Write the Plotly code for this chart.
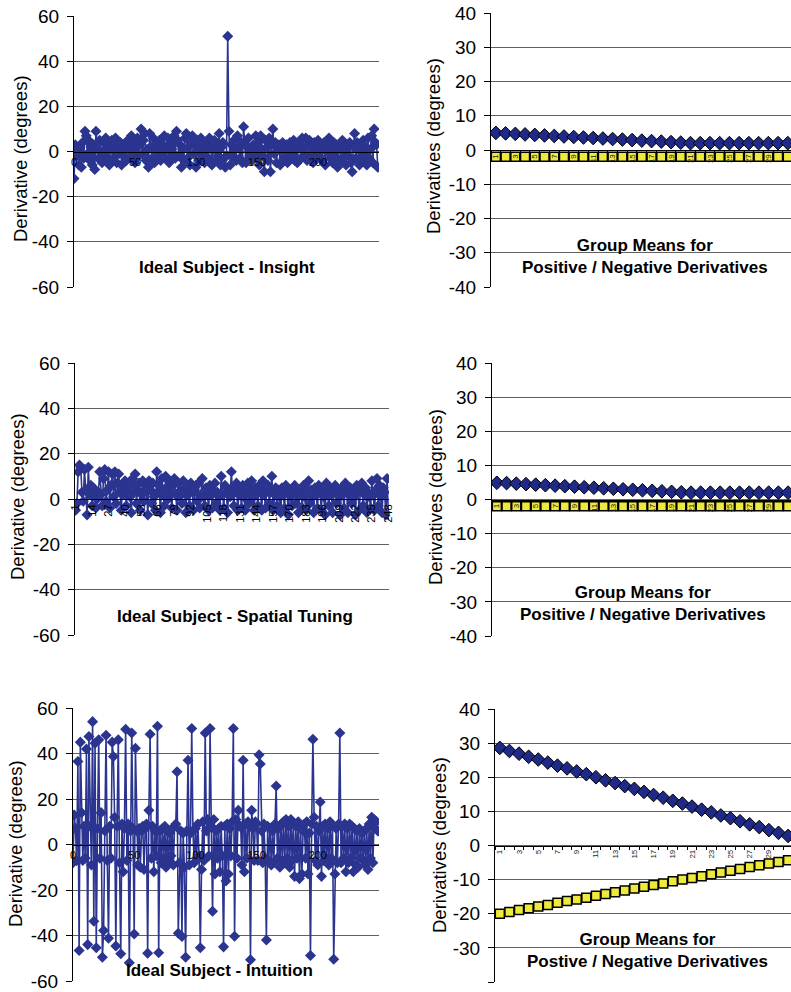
import plotly.graph_objects as go

# ---------------- data ----------------
insight = [
    -12, 3, -2, 1, -6, 2, -7, 4, -3, 9, 7, -1, 5, -4, 2, -6, 3, -8, 9, 1, -3, 5, 0, -5, 4,
    -2, 6, -4, 1, -6, 3, 5, -3, 0, 6, -5, 2, -1, 4, -6, 3, -2, 1, -4, 5, 2, -3, 7, -1, 4,
    -5, 2, 6, -2, 3, 10, -1, 5, 8, -4, 1, -7, 8, 2, -3, 6, -5, 1, 4, -2, 5, -4, 3, -1, 7,
    -3, 2, 6, -5, 4, 1, -2, 7, -3, 9, 5, -2, 3, -7, 1, -4, 6, 8, -3, 2, -6, 4, 7, -1, 3,
    -7, 5, 1, -4, 6, -2, 3, -5, 0, 4, -3, 6, 2, -6, 1, 5, -4, 3, -2, 8, -6, 2, 4, -3, -7,
    -2, 51, 9, -6, 3, -2, 5, 1, -4, 7, 2, -3, 4, -5, 11, 3, -5, 2, 6, -2, 1, -4, 3, 0, 7,
    -3, 4, -6, 7, 1, -2, -9, 5, 2, -4, 6, -9, 3, 10, -1, 4, -5, 2, 3, -6, 1, 4, -3, 0, 3,
    -5, 2, 4, -2, 1, 5, -4, 3, -5, 2, 4, -3, 6, 1, -2, 6, -4, 3, 5, -1, 2, -5, 4, 1, -3,
    5, -2, 3, -4, 1, 4, -6, 2, 0, 6, -3, 2, -5, 4, -2, 3, -7, 1, 2, -4, 5, -3, 1, -6, 3,
    -2, 4, -5, -9, 2, 8, -3, 4, 1, -6, 3, -2, 5, -4, 2, -6, 6, -3, 1, 7, -5, 10, 4, 3, -7,
]
insight_x = list(range(len(insight)))

spatial = [
    -5, -2, 12, 15, 14, 3, -1, 13, 4, -7, 14, 2, 6, -3, 5, 1, -4, 0, 3, 12, 2, -3, 9, 13, -1,
    4, 12, -4, 6, 11, 1, 12, -2, 7, 11, 3, -5, 5, 2, 8, -3, 4, 6, 1, -6, 9, 3, 11, -2, 4,
    7, -5, 2, 8, -1, 6, 3, -7, 8, 4, -2, 7, 1, -5, 12, 3, 6, -6, 9, 2, -3, 10, 5, 0, 8,
    3, -4, 6, 9, 2, -5, 7, 1, 4, -2, 8, 3, -6, 5, 2, -3, 7, 4, -5, 3, 6, -1, 7, -4, 2,
    9, 1, -3, 5, 3, -5, 6, 2, -4, 4, 7, -2, 3, 1, -5, 10, 2, -4, 6, 3, -6, 4, 1, 12, 2,
    -3, 5, 7, -5, 2, 4, -4, 6, 1, -5, 3, 7, -2, 4, 8, 1, -5, 5, 2, -3, 6, 3, -5, 8, 2,
    -4, 4, 6, -2, 3, 10, -5, 2, 5, -3, 4, 1, -6, 5, 2, -4, 6, 3, -7, 4, 1, -3, 5, 6, -2,
    3, -6, 2, 4, -4, 6, 1, -5, 3, 8, -2, 4, 1, -6, 5, 2, -4, 6, 3, -5, 4, 1, -7, 7, 2,
    -3, 5, 2, -6, 4, 6, -2, 3, 1, -7, 5, 2, -4, 7, 3, -6, 2, 5, -2, 4, 1, -7, 6, 3, -5,
    4, 7, -3, 2, 5, -6, 3, 1, -4, 8, 2, -5, 4, 9, -3, 6, 1, -6, 5, 3, -7, 9, -7,
]
spatial_cat = list(range(1, len(spatial) + 1))
spatial_ticks = [1, 14, 27, 40, 53, 66, 79, 92, 105, 118, 131, 144, 157, 170, 183,
                 196, 209, 222, 235, 248]

intuition = [
    -8, 13, 7, -7, 36.5, -46.6, 45, 14, -7, 8, -6, 42, -44, 47.5, 8, -9, 54, -33.7, 44.5, -45.4, 7, 46, -6, 14, -49.6,
    -37.8, 6, 48, -7, -41.2, 8, -6, 45, 38.7, 12, -44.6, 8, 46, -8, -48, 9, -12, 7, 50.7, -7, 9, -52, 6, 49, 7,
    -39.3, 42.3, 6, -9, 7, -10, 6, 8, -11, 7, 9, -47.8, 15, 48.5, -6, 8, -12, 6, -5, 52, -47.6, 6, -8, 7, -6,
    8, -10, 6, -7, 5, -5, 7, -9, 8, 9, 32, -39, -8, 6, -40.4, 5, -10, -49.6, 6, 37, -9, 5, 51, 6, -8,
    7, -6, 9, -5, -45.4, -11, 10, -7, 49, 6, 11, -5, 51, 8, -29.3, 11, -13, 6, -6, 7, -12, 8, -5, -45, 8,
    -16, 9, -13, 7, -5, 10, 51, -40.3, 11, -6, 15, 8, 8, -9, 37, -12, 9, -6, 10, 8, -50.7, 15, 7, -7, 10,
    9, -7, 39.4, 35.4, 6, -8, 9, -6, -42, 8, -7, 7, -9, 6, -8, 9, 25.7, -6, 7, -10, 9, -7, 10, -8, 11,
    -6, 8, -10, 11, -7, 9, -14, 8, -6, 10, -15, 7, -13, 6, 9, -6, 10, -13, 5, -48.8, 9, 46.3, 12, -7, 8,
    -9, 6, 18.7, -14, 8, -7, 9, -6, 7, -9, 10, -6, 8, -50.4, -13, 7, -8, 9, 49, -8, 8, -6, 9, -12, 7,
    -8, 9, -6, 8, -12, 7, -9, 6, -10, 7, -6, 5, -7, 6, -9, 7, -11, 9, -6, 12, -8, 11, 7, 10, 6,
]
intuition_x = list(range(len(intuition)))

group_cat = list(range(1, 33))
pos_means_a = [5.0, 4.85, 4.7, 4.55, 4.4, 4.25, 4.1, 3.95, 3.8, 3.65, 3.5, 3.35, 3.2, 3.05,
               2.9, 2.75, 2.6, 2.45, 2.3, 2.15, 2.0, 2.0, 2.0, 2.0, 2.0, 2.0, 2.0, 2.0,
               2.0, 2.0, 2.0, 2.0]
neg_means_a = [-2.0] * 32
pos_means_b = [4.9, 4.8, 4.65, 4.5, 4.35, 4.2, 4.05, 3.9, 3.75, 3.6, 3.45, 3.3, 3.15, 3.0,
               2.85, 2.7, 2.55, 2.4, 2.25, 2.1, 2.0, 2.0, 2.0, 2.0, 2.0, 2.0, 2.0, 2.0,
               2.0, 2.0, 2.0, 2.0]
neg_means_b = [-2.0] * 32
pos_means_c = [28.6, 27.7, 26.9, 26.0, 25.2, 24.3, 23.4, 22.6, 21.7, 20.9, 20.0, 19.1,
               18.3, 17.4, 16.6, 15.7, 14.8, 14.0, 13.1, 12.3, 11.4, 10.5, 9.7, 8.8,
               8.0, 7.1, 6.2, 5.4, 4.5, 3.7, 2.8, 2.0]
neg_means_c = [-20.0, -19.5, -18.9, -18.4, -17.9, -17.4, -16.8, -16.3, -15.8, -15.3,
               -14.7, -14.2, -13.7, -13.2, -12.6, -12.1, -11.6, -11.1, -10.5, -10.0,
               -9.5, -9.0, -8.4, -7.9, -7.4, -6.9, -6.3, -5.8, -5.3, -4.8, -4.3, -3.8]
group_ticks = list(range(1, 33, 2))

left_yticks = [-60, -40, -20, 0, 20, 40, 60]
right_yticks = [-40, -30, -20, -10, 0, 10, 20, 30, 40]
insight_xticks = [0, 50, 100, 150, 200]

left_titles = ["Ideal Subject - Insight", "Ideal Subject - Spatial Tuning",
               "Ideal Subject - Intuition"]
right_titles = ["Group Means for<br>Positive / Negative Derivatives",
                "Group Means for<br>Positive / Negative Derivatives",
                "Group Means for<br>Postive / Negative Derivatives"]

# ---------------- layout helpers ----------------
W, H = 791, 992
FONT = "Liberation Sans, Arial, sans-serif"
NAVY = "#2B3590"
DIAMOND = "#1F2A88"
YELLOW = "#EEEA3C"


def px(x):
    return x / W


def py(y):
    return 1 - y / H


# plot boxes in pixels: (left, right, top, bottom)
boxes = {
    1: (74, 379, 16, 287),
    2: (491, 791, 13, 287),
    3: (75, 389, 363, 635),
    4: (492, 791, 363, 636),
    5: (73, 379, 708, 981),
    6: (495, 791, 709, 982),
}

fig = go.Figure()
layout = dict(
    template="none",
    width=W, height=H, margin=dict(l=0, r=0, t=0, b=0, pad=0, autoexpand=False),
    paper_bgcolor="white", plot_bgcolor="white",
    showlegend=False, font=dict(family=FONT, color="black"),
)


def add_axes(n, yticks, xcfg):
    l, r, t, b = boxes[n]
    mid = (py(t) + py(b)) / 2
    xa = dict(domain=[px(l), px(r)], anchor="free", position=mid, automargin=False,
              showgrid=False, zeroline=False, showline=True,
              linecolor="black", linewidth=1)
    xa.update(xcfg)
    ya = dict(domain=[py(b), py(t)], anchor=f"x{n}" if n > 1 else "x",
              automargin=False, range=[yticks[0], yticks[-1]],
              tickvals=yticks, ticktext=[str(v) for v in yticks],
              showline=True, linecolor="black", linewidth=1,
              ticks="outside", ticklen=6, tickcolor="black",
              showgrid=True, gridcolor="#606060", gridwidth=1,
              zeroline=False, tickfont=dict(size=19, family=FONT),
              ticklabelstandoff=4)
    key = "" if n == 1 else str(n)
    layout["xaxis" + key] = xa
    layout["yaxis" + key] = ya


small_tick_font = dict(size=11, family=FONT, color="black")

# Insight: numeric x axis
add_axes(1, left_yticks, dict(range=[0, 250], tickvals=insight_xticks,
                              ticks="", tickfont=small_tick_font))
# Spatial tuning: category positions 1..248
add_axes(3, left_yticks, dict(range=[0.5, 248.5], tickvals=spatial_ticks,
                              tickangle=-90, ticks="", tickfont=dict(size=11, family=FONT)))
# Intuition: numeric x axis
add_axes(5, left_yticks, dict(range=[0, 250], tickvals=insight_xticks,
                              ticks="", tickfont=small_tick_font))
# Group means panels (the figure edge cuts the category axis after about 31)
for n, rng in ((2, [0.5, 31.33]), (4, [0.5, 31.3]), (6, [0.5, 31.3])):
    add_axes(n, right_yticks, dict(range=rng, tickvals=group_ticks, tickangle=-90,
                                   ticks="", tickfont=dict(size=8, family=FONT, color="#222"),
                                   minor=dict(tickvals=[i + 0.5 for i in range(0, 32)],
                                              ticks="outside", ticklen=3,
                                              tickcolor="black")))


def axis_refs(n):
    return ("x" if n == 1 else f"x{n}", "y" if n == 1 else f"y{n}")


for n, xs, ys in ((1, insight_x, insight), (3, spatial_cat, spatial),
                  (5, intuition_x, intuition)):
    xr, yr = axis_refs(n)
    fig.add_trace(go.Scatter(x=xs, y=ys, xaxis=xr, yaxis=yr, mode="lines+markers",
                             line=dict(color=NAVY, width=1.6),
                             marker=dict(symbol="diamond", size=8.5, color=NAVY)))

for n, pos, neg in ((2, pos_means_a, neg_means_a), (4, pos_means_b, neg_means_b),
                    (6, pos_means_c, neg_means_c)):
    xr, yr = axis_refs(n)
    fig.add_trace(go.Scatter(x=group_cat, y=pos, xaxis=xr, yaxis=yr, mode="markers",
                             marker=dict(symbol="diamond", size=10.5, color=DIAMOND,
                                         line=dict(color="black", width=1))))
    fig.add_trace(go.Scatter(x=group_cat, y=neg, xaxis=xr, yaxis=yr, mode="markers",
                             marker=dict(symbol="square", size=9, color=YELLOW,
                                         line=dict(color="black", width=1.5))))

annotations = []
# y-axis titles
for (x, y, text) in ((20, 159, "Derivative (degrees)"), (17, 497, "Derivative (degrees)"),
                     (15, 844, "Derivative (degrees)"), (433, 146, "Derivatives (degrees)"),
                     (435, 497, "Derivatives (degrees)"), (439, 845, "Derivatives (degrees)")):
    annotations.append(dict(x=px(x), y=py(y), xref="paper", yref="paper", text=text,
                            textangle=-90, showarrow=False, xanchor="center", yanchor="middle",
                            font=dict(size=18.5, family=FONT)))
# panel titles
for (x, y), text in zip(((227, 267), (235, 616), (219, 970)), left_titles):
    annotations.append(dict(x=px(x), y=py(y), xref="paper", yref="paper",
                            text=f"<b>{text}</b>", showarrow=False,
                            xanchor="center", yanchor="middle",
                            font=dict(size=17, family=FONT)))
for (x, y), text in zip(((645, 256), (643, 603), (647, 950)), right_titles):
    annotations.append(dict(x=px(x), y=py(y), xref="paper", yref="paper",
                            text=f"<b>{text}</b>", showarrow=False,
                            xanchor="center", yanchor="middle", align="center",
                            font=dict(size=17, family=FONT)))
layout["annotations"] = annotations

fig.update_layout(**layout)
fig.write_html("out.html")
